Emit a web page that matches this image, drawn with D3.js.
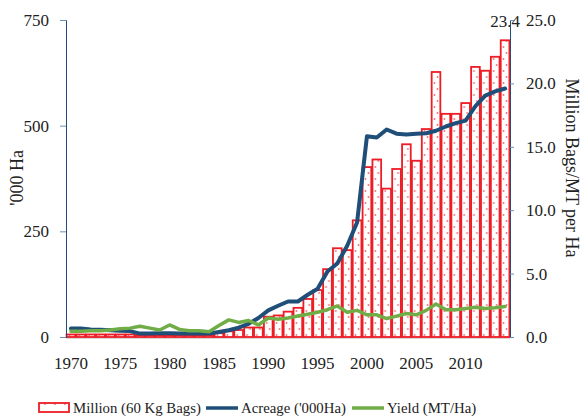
<!DOCTYPE html>
<html lang="en">
<head>
  <meta charset="UTF-8">
  <title>Coffee production, acreage and yield</title>
  <style>
    body { margin: 0; background: #fff; }
    svg text { font-family: "Liberation Serif", "Times New Roman", serif; fill: #222; }
    .tick text { font-size: 17px; }
    .axis-title { font-size: 18px; }
    .legend text { font-size: 14.8px; }
  </style>
</head>
<body>
  <div class="layout"></div>
  <script src="https://d3js.org/d3.v7.min.js"></script>
  <script>
    // data
    const years = d3.range(1970, 2015);
    const bags = [ // million 60 kg bags (right axis)
      0.2, 0.2, 0.2, 0.2, 0.2, 0.2, 0.2, 0.15, 0.15, 0.15,
      0.15, 0.15, 0.15, 0.15, 0.15, 0.3, 0.45, 0.55, 0.75, 0.75,
      1.6, 1.7, 2.0, 2.3, 3.0, 3.7, 5.35, 7.0, 6.85, 9.2,
      13.4, 14.0, 11.7, 13.25, 15.2, 13.9, 16.4, 20.9, 17.6, 17.6,
      18.45, 21.3, 21.0, 22.1, 23.4
    ];
    const acreage = [ // '000 Ha (left axis)
      20, 20, 18, 17, 16, 15, 14, 8, 8, 9,
      9, 8, 8, 8, 8, 12, 16, 22, 31, 45,
      63, 74, 84, 84, 100, 114, 155, 174, 216, 271,
      475, 472, 491, 481, 479, 481, 482, 488, 498, 506,
      512, 546, 571, 581, 588
    ];
    const yieldHa = [ // MT per Ha (right axis)
      0.45, 0.45, 0.5, 0.5, 0.55, 0.65, 0.7, 0.85, 0.7, 0.55,
      0.95, 0.6, 0.5, 0.5, 0.42, 0.9, 1.35, 1.15, 1.3, 0.95,
      1.5, 1.4, 1.5, 1.65, 1.8, 1.95, 2.15, 2.45, 1.95, 2.1,
      1.75, 1.75, 1.45, 1.65, 1.85, 1.75, 2.1, 2.6, 2.15, 2.15,
      2.25, 2.35, 2.25, 2.3, 2.4
    ];
    const leftTicks = [0, 250, 500, 750];
    const rightTicks = [0, 5, 10, 15, 20, 25];
    const xTicks = [1970, 1975, 1980, 1985, 1990, 1995, 2000, 2005, 2010];
    const seriesNames = ['Million (60 Kg Bags)', "Acreage ('000Ha)", 'Yield (MT/Ha)'];

    const W = 585, H = 418;
    const margin = {top: 20, right: 75, bottom: 81, left: 66};
    const innerW = W - margin.left - margin.right;
    const innerH = H - margin.top - margin.bottom;

    const RED = '#ee1c25', BLUE = '#1f4e79', GREEN = '#70ad47';

    const svg = d3.select('.layout').append('svg')
      .attr('width', W).attr('height', H);

    const x = d3.scaleBand().domain(years).range([0, innerW]).paddingInner(0.12).paddingOuter(0.06);
    const yL = d3.scaleLinear().domain([0, 750]).range([innerH, 0]);
    const yR = d3.scaleLinear().domain([0, 25]).range([innerH, 0]);
    const cx = d => x(d) + x.bandwidth() / 2;

    // dotted fill for the bars, one tile per band so the dots sit inside each bar
    const step = x.step();
    const dotX = x.paddingOuter() * step + x.bandwidth() / 2;
    const pat = svg.append('defs').append('pattern')
      .attr('id', 'dots')
      .attr('patternUnits', 'userSpaceOnUse')
      .attr('width', step).attr('height', 12);
    pat.append('rect').attr('width', step).attr('height', 12).attr('fill', '#fff');
    pat.append('circle').attr('cx', dotX - 1.5).attr('cy', 3).attr('r', 0.9).attr('fill', '#f26a6f');
    pat.append('circle').attr('cx', dotX + 1.5).attr('cy', 9).attr('r', 0.9).attr('fill', '#f26a6f');

    const legPat = svg.select('defs').append('pattern')
      .attr('id', 'dotsLeg')
      .attr('patternUnits', 'userSpaceOnUse')
      .attr('width', 10).attr('height', 10);
    legPat.append('rect').attr('width', 10).attr('height', 10).attr('fill', '#fff');
    legPat.append('circle').attr('cx', 5).attr('cy', 4).attr('r', 0.9).attr('fill', '#f26a6f');

    const g = svg.append('g').attr('transform', `translate(${margin.left},${margin.top})`);

    // baseline
    g.append('line')
      .attr('x1', 0).attr('x2', innerW)
      .attr('y1', innerH + 1).attr('y2', innerH + 1)
      .attr('stroke', '#d9d9d9').attr('stroke-width', 2);

    // bars
    g.selectAll('rect.bar')
      .data(years)
      .join('rect')
        .attr('class', 'bar')
        .attr('x', d => x(d))
        .attr('width', x.bandwidth())
        .attr('y', (d, i) => yR(bags[i]))
        .attr('height', (d, i) => innerH - yR(bags[i]))
        .attr('fill', 'url(#dots)')
        .attr('stroke', RED)
        .attr('stroke-width', 1.8);

    // label on the last bar
    g.append('text')
      .attr('x', cx(years[years.length - 1]))
      .attr('y', yR(bags[bags.length - 1]) - 13)
      .attr('text-anchor', 'middle')
      .style('font-size', '17px')
      .text(bags[bags.length - 1].toFixed(1));

    // lines
    const acreLine = d3.line().x((d, i) => cx(years[i])).y(d => yL(d));
    const yieldLine = d3.line().x((d, i) => cx(years[i])).y(d => yR(d));

    g.append('path')
      .attr('d', acreLine(acreage))
      .attr('fill', 'none').attr('stroke', BLUE)
      .attr('stroke-width', 4).attr('stroke-linejoin', 'round').attr('stroke-linecap', 'round');

    g.append('path')
      .attr('d', yieldLine(yieldHa))
      .attr('fill', 'none').attr('stroke', GREEN)
      .attr('stroke-width', 3.5).attr('stroke-linejoin', 'round').attr('stroke-linecap', 'round');

    // axes
    const leftAxis = g.append('g')
      .call(d3.axisLeft(yL).tickValues(leftTicks).tickSizeOuter(0).tickSize(6).tickPadding(11));
    leftAxis.select('.domain').attr('stroke', BLUE);
    leftAxis.selectAll('.tick line').attr('stroke', '#6b8fb5');

    const rightAxis = g.append('g')
      .attr('transform', `translate(${innerW},0)`)
      .call(d3.axisRight(yR).tickValues(rightTicks).tickFormat(d3.format('.1f'))
        .tickSizeOuter(0).tickSize(4).tickPadding(12));
    rightAxis.select('.domain').attr('stroke', BLUE);
    rightAxis.selectAll('.tick line').attr('stroke', '#6b8fb5');

    const bottomAxis = g.append('g')
      .attr('transform', `translate(0,${innerH})`)
      .call(d3.axisBottom(x).tickValues(xTicks).tickSize(0).tickPadding(20));
    bottomAxis.select('.domain').remove();

    svg.selectAll('.tick text').attr('fill', '#222');

    // axis titles
    svg.append('text')
      .attr('class', 'axis-title')
      .attr('transform', `translate(23,178) rotate(-90)`)
      .attr('text-anchor', 'middle')
      .text("'000 Ha");

    svg.append('text')
      .attr('class', 'axis-title')
      .attr('transform', `translate(566,168) rotate(90)`)
      .attr('text-anchor', 'middle')
      .text('Million Bags/MT per Ha');

    // legend
    const legend = svg.append('g').attr('class', 'legend');
    const lx = [38, 206, 352];

    legend.append('rect')
      .attr('x', lx[0] + 1).attr('y', 403)
      .attr('width', 30).attr('height', 9)
      .attr('fill', 'url(#dotsLeg)').attr('stroke', RED).attr('stroke-width', 1.8);
    legend.append('line')
      .attr('x1', lx[1]).attr('x2', lx[1] + 32).attr('y1', 408).attr('y2', 408)
      .attr('stroke', BLUE).attr('stroke-width', 3.5);
    legend.append('line')
      .attr('x1', lx[2]).attr('x2', lx[2] + 32).attr('y1', 408).attr('y2', 408)
      .attr('stroke', GREEN).attr('stroke-width', 3.5);

    legend.selectAll('text.lbl')
      .data(seriesNames)
      .join('text')
        .attr('class', 'lbl')
        .attr('x', (d, i) => lx[i] + 35)
        .attr('y', 413)
        .text(d => d);
  </script>
</body>
</html>
